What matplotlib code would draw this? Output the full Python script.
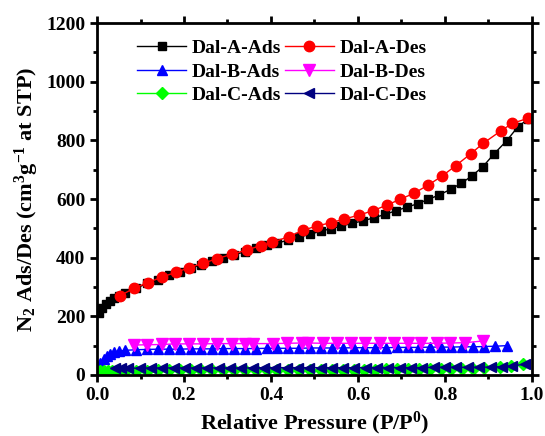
import matplotlib
matplotlib.use("Agg")
import matplotlib.pyplot as plt
from matplotlib.ticker import MultipleLocator

plt.rcParams['font.family'] = 'Liberation Serif'
plt.rcParams['font.weight'] = 'bold'
plt.rcParams['mathtext.fontset'] = 'custom'
plt.rcParams['mathtext.rm'] = 'Liberation Serif:bold'
plt.rcParams['mathtext.it'] = 'Liberation Serif:bold'
plt.rcParams['mathtext.bf'] = 'Liberation Serif:bold'
plt.rcParams['mathtext.default'] = 'rm'

# Dal-A adsorcion / desorcion
xa_ads = [0.005, 0.012, 0.02, 0.03, 0.04, 0.05, 0.065, 0.09, 0.115, 0.14, 0.165,
          0.19, 0.215, 0.24, 0.265, 0.29, 0.315, 0.34, 0.365, 0.39, 0.415, 0.44,
          0.465, 0.49, 0.514, 0.538, 0.562, 0.587, 0.612, 0.637, 0.663, 0.687,
          0.712, 0.737, 0.762, 0.787, 0.813, 0.838, 0.862, 0.887, 0.913, 0.942,
          0.967, 0.99]
ya_ads = [210, 228, 242, 253, 262, 270, 280, 296, 312, 325, 340,
          352, 364, 376, 388, 400, 410, 420, 432, 442, 450, 460,
          470, 480, 490, 499, 508, 517, 526, 536, 548, 560,
          572, 584, 599, 614, 633, 654, 679, 710, 754, 799,
          845, 872]
xa_des = [0.99, 0.955, 0.929, 0.888, 0.859, 0.825, 0.794, 0.762, 0.729, 0.697,
          0.666, 0.634, 0.602, 0.569, 0.537, 0.505, 0.473, 0.441, 0.403, 0.376,
          0.344, 0.311, 0.277, 0.244, 0.212, 0.182, 0.149, 0.117, 0.085, 0.053]
ya_des = [875, 858, 833, 790, 754, 714, 679, 648, 620, 599,
          579, 560, 545, 532, 519, 508, 493, 472, 452, 441,
          426, 412, 397, 381, 366, 350, 334, 315, 296, 270]

# Dal-B
xb_ads = [0.008, 0.015, 0.022, 0.03, 0.04, 0.05, 0.065, 0.09, 0.115, 0.14, 0.165,
          0.19, 0.215, 0.24, 0.265, 0.29, 0.315, 0.34, 0.365, 0.39, 0.415, 0.44,
          0.465, 0.49, 0.515, 0.54, 0.565, 0.59, 0.615, 0.64, 0.665, 0.69,
          0.715, 0.74, 0.765, 0.79, 0.815, 0.84, 0.865, 0.89, 0.915, 0.942]
yb_ads = [40, 55, 65, 72, 78, 81, 84, 86, 87, 88, 88,
          88, 89, 89, 89, 90, 90, 90, 90, 91, 91, 91,
          91, 92, 92, 92, 92, 93, 93, 93, 93, 94,
          94, 94, 95, 95, 95, 96, 96, 97, 98, 100]
xb_des = [0.888, 0.846, 0.812, 0.781, 0.746, 0.716, 0.683, 0.651, 0.616, 0.585,
          0.551, 0.52, 0.486, 0.472, 0.436, 0.404, 0.359, 0.34, 0.31, 0.277,
          0.244, 0.212, 0.179, 0.149, 0.114, 0.084]
yb_des = [116, 110, 109, 108, 108, 108, 108, 108, 108, 108,
          108, 108, 109, 109, 108, 107, 107, 107, 107, 107,
          106, 106, 106, 104, 103, 102]

# Dal-C
xc_ads = [0.003, 0.008, 0.015, 0.025, 0.035, 0.05, 0.065, 0.09, 0.115, 0.14, 0.165,
          0.19, 0.215, 0.24, 0.265, 0.29, 0.315, 0.34, 0.365, 0.39, 0.415, 0.44,
          0.465, 0.49, 0.515, 0.54, 0.565, 0.59, 0.615, 0.64, 0.665, 0.69,
          0.715, 0.74, 0.765, 0.79, 0.815, 0.84, 0.865, 0.89, 0.926, 0.953, 0.979]
yc_ads = [10, 12, 13, 14, 14, 15, 15, 15, 15, 16, 16,
          16, 16, 16, 16, 17, 17, 17, 17, 17, 17, 17,
          17, 18, 18, 18, 18, 18, 18, 18, 19, 19,
          19, 19, 20, 20, 21, 21, 22, 24, 28, 31, 37]
xc_des = [0.984, 0.955, 0.931, 0.905, 0.878, 0.852, 0.826, 0.8, 0.774, 0.748,
          0.722, 0.696, 0.67, 0.644, 0.618, 0.592, 0.566, 0.54, 0.514, 0.488,
          0.462, 0.436, 0.41, 0.384, 0.358, 0.332, 0.306, 0.28, 0.254, 0.228,
          0.202, 0.176, 0.15, 0.124, 0.098, 0.072, 0.055, 0.041]
yc_des = [37, 31, 28, 27, 26, 26, 26, 26, 26, 25,
          25, 25, 25, 25, 25, 25, 25, 25, 25, 25,
          25, 25, 25, 25, 24, 24, 24, 24, 24, 24,
          24, 24, 24, 24, 23, 23, 23, 23]

fig = plt.figure(figsize=(5.45, 4.36), dpi=100)
ax = fig.add_axes([0.178, 0.14, 0.798, 0.807])

ax.plot(xa_ads, ya_ads, '-s', color='black', ms=6, lw=1, label='Dal-A-Ads')
ax.plot(xb_ads, yb_ads, '-^', color='blue', ms=7, lw=1, label='Dal-B-Ads')
ax.plot(xc_ads, yc_ads, '-D', color='#00ff00', ms=6, lw=1, label='Dal-C-Ads')
ax.plot(xa_des, ya_des, '-o', color='red', ms=7.5, lw=1, label='Dal-A-Des')
ax.plot(xb_des, yb_des, '-v', color='magenta', ms=8, lw=1, label='Dal-B-Des')
ax.plot(xc_des, yc_des, '-<', color='navy', ms=6.5, lw=1, label='Dal-C-Des')

ax.set_xlim(0, 1.0)
ax.set_ylim(0, 1200)
ax.xaxis.set_major_locator(MultipleLocator(0.2))
ax.xaxis.set_minor_locator(MultipleLocator(0.1))
ax.yaxis.set_major_locator(MultipleLocator(200))
ax.yaxis.set_minor_locator(MultipleLocator(100))
ax.tick_params(which='both', direction='out', width=2, top=True, right=True,
               labelsize=14)
ax.tick_params(which='major', length=5)
ax.tick_params(which='minor', length=3)
ax.xaxis.set_major_formatter(plt.FuncFormatter(lambda v, p: '%.1f' % v))
for s in ax.spines.values():
    s.set_linewidth(2)

ax.set_xlabel('Relative Pressure (P/P$^0$)', fontsize=16, fontweight='bold')
ax.set_ylabel('N$_2$ Ads/Des (cm$^3$g$^{-1}$ at STP)', fontsize=16,
              fontweight='bold', labelpad=4)

ax.legend(loc='upper left', ncol=2, frameon=False, fontsize=14,
          handlelength=2.5, handletextpad=0.3, columnspacing=0.2,
          labelspacing=0.3, bbox_to_anchor=(0.075, 0.975), borderaxespad=0)

fig.savefig('out.png', dpi=100)
